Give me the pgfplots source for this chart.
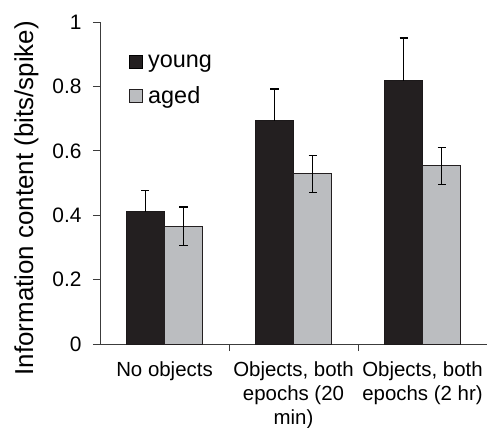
\documentclass[border=0pt]{standalone}
\usepackage{pgfplots}
\pgfplotsset{compat=1.18}
\usepackage{fontspec}
\setmainfont{Liberation Sans}
\definecolor{young}{RGB}{35,31,32}
\definecolor{aged}{RGB}{187,189,192}
\definecolor{axgray}{RGB}{60,60,60}
\begin{document}
\begin{tikzpicture}
\begin{axis}[
  name=ax,
  at={(0,0)}, anchor=south west,
  scale only axis,
  width=387bp, height=322bp,
  xmin=-0.5, xmax=2.5,
  ymin=0, ymax=1,
  axis x line*=bottom, axis y line*=left,
  axis line style={axgray, line width=0.8bp},
  ybar=0pt, bar width=38bp,
  xtick={0,1,2},
  xticklabels={No objects, {Objects, both\\epochs (20\\min)}, {Objects, both\\epochs (2 hr)}},
  xticklabel style={align=center, font=\fontsize{20.5}{24}\selectfont, yshift=-7bp},
  minor xtick={0.5,1.5},
  major x tick style={draw=none},
  minor x tick style={axgray, line width=0.8bp},
  minor tick length=7bp,
  ytick={0,0.2,0.4,0.6,0.8,1},
  yticklabels={0,0.2,0.4,0.6,0.8,1},
  major tick length=7bp,
  tick align=outside,
  y tick style={axgray, line width=0.8bp},
  yticklabel style={font=\fontsize{21}{24}\selectfont, xshift=-8bp},
  /pgf/number format/assume math mode=true,
  ylabel={Information content (bits/spike)},
  every axis y label/.style={at={(axis description cs:-0.173,0.453)}, rotate=90, anchor=base, font=\fontsize{26}{30}\selectfont},
  legend style={draw=none, fill=none, at={(axis description cs:0.075,0.906)}, anchor=north west, inner sep=0pt, font=\fontsize{23.5}{27}\selectfont, row sep=14bp},
  legend cell align=left,
  error bars/y dir=both,
]
\addplot[fill=young, draw=young!80!black, line width=1bp, bar shift=-19bp,
  legend image code/.code={\draw[fill=young, draw=black, line width=1bp] (0bp,-6.5bp) rectangle (13bp,6.5bp); \path (16bp,0bp);},
  error bars/.cd, y dir=plus, y explicit,
  error bar style={black, line width=1.5bp},
  error mark options={rotate=90, mark size=4bp, line width=1.5bp, black}]
  coordinates {(0,0.411) +- (0,0.065) (1,0.693) +- (0,0.099) (2,0.817) +- (0,0.134)};
\addlegendentry{young}
\addplot[fill=aged, draw=young, line width=1bp, bar shift=19bp,
  legend image code/.code={\draw[fill=aged, draw=young, line width=1bp] (0bp,-6.5bp) rectangle (13bp,6.5bp); \path (16bp,0bp);},
  error bars/.cd, y dir=both, y explicit,
  error bar style={black, line width=1.5bp},
  error mark options={rotate=90, mark size=4bp, line width=1.5bp, black}]
  coordinates {(0,0.366) +- (0,0.060) (1,0.528) +- (0,0.058) (2,0.553) +- (0,0.057)};
\addlegendentry{aged}
\end{axis}
\pgfresetboundingbox
\path[use as bounding box] (-100bp,-84bp) rectangle (387bp,344bp);
\end{tikzpicture}
\end{document}
